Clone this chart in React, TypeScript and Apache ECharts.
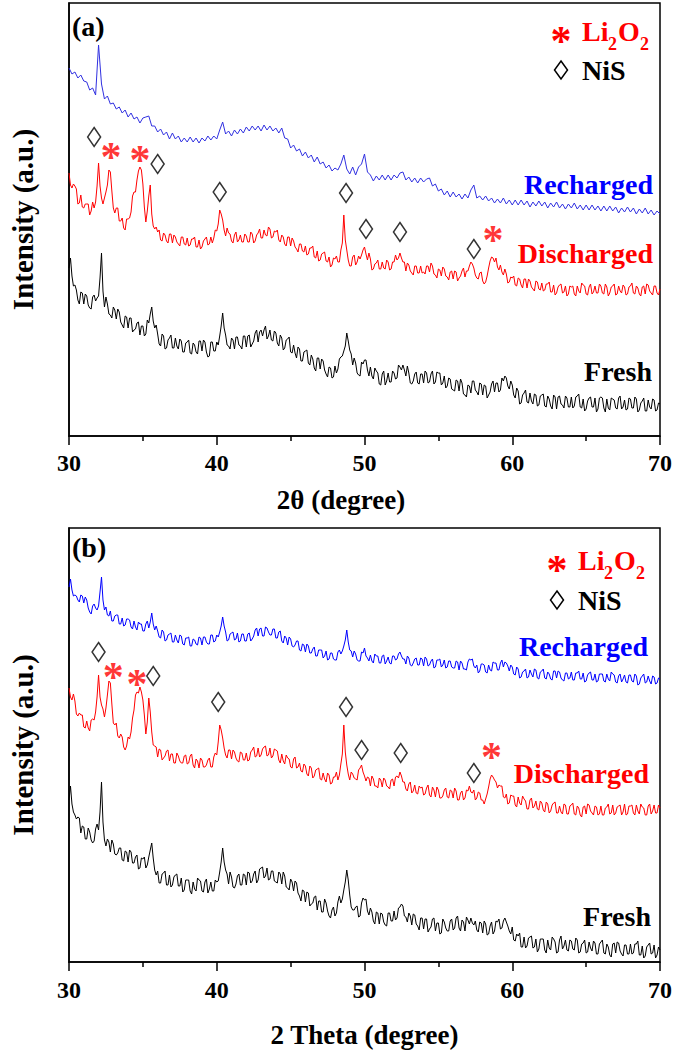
import React, { useEffect, useRef } from "react";
import * as echarts from "echarts";

// 2θ sampling grids (degrees): 0.1° steps for the noisy scans, 0.2° for the smoother one
const twoThetaFine: number[] = Array.from({ length: 401 }, (_, i) => (300 + i) / 10);
const twoThetaCoarse: number[] = Array.from({ length: 201 }, (_, i) => (150 + i) / 5);
const xTicks = [30, 40, 50, 60, 70];

// Panel (a) intensities (a.u.)
const rechargedA = [
  368, 362, 364, 358, 361, 355, 354, 346, 348, 341,
  391, 352, 337, 340, 332, 333, 327, 329, 323, 326,
  319, 323, 317, 319, 313, 318, 319, 320, 310, 310,
  304, 307, 301, 304, 297, 303, 297, 300, 294, 298,
  294, 299, 294, 298, 293, 298, 295, 300, 296, 300,
  297, 306, 314, 302, 305, 300, 306, 302, 307, 303,
  309, 305, 310, 306, 310, 305, 311, 306, 310, 305,
  308, 303, 308, 298, 297, 288, 291, 285, 287, 280,
  284, 278, 281, 274, 279, 272, 274, 268, 271, 265,
  268, 266, 272, 281, 267, 262, 269, 261, 269, 272,
  282, 264, 261, 255, 260, 256, 261, 256, 261, 256,
  261, 258, 263, 264, 256, 259, 254, 258, 253, 258,
  254, 257, 258, 250, 252, 245, 247, 241, 245, 239,
  244, 239, 242, 237, 242, 238, 246, 251, 238, 240,
  236, 240, 235, 238, 233, 237, 233, 238, 232, 236,
  231, 236, 231, 236, 231, 235, 229, 234, 230, 235,
  230, 234, 228, 233, 229, 234, 228, 232, 227, 232,
  228, 233, 227, 231, 226, 231, 226, 231, 226, 230,
  225, 230, 225, 230, 225, 229, 223, 228, 224, 229,
  224, 228, 222, 227, 223, 228, 222, 226, 221, 225,
  222,
];
const dischargedA = [
  263, 251, 248, 252, 250, 247, 232, 233, 241, 229, 228, 232, 232, 232, 221, 225, 234, 228, 234, 250,
  273, 250, 238, 232, 238, 244, 251, 266, 264, 245, 228, 223, 228, 228, 215, 215, 218, 208, 206, 217,
  217, 218, 224, 240, 244, 244, 256, 265, 269, 266, 252, 229, 214, 225, 240, 251, 222, 210, 207, 209,
  204, 206, 196, 195, 203, 201, 195, 193, 202, 202, 193, 201, 199, 194, 192, 190, 199, 199, 192, 191,
  198, 190, 191, 197, 197, 199, 189, 189, 196, 187, 189, 195, 197, 199, 191, 192, 199, 193, 198, 206,
  205, 212, 226, 222, 216, 206, 200, 208, 203, 202, 195, 193, 201, 204, 194, 196, 201, 194, 194, 202,
  200, 194, 194, 204, 202, 193, 195, 201, 203, 207, 198, 198, 206, 201, 200, 209, 207, 198, 199, 205,
  204, 206, 196, 194, 201, 199, 192, 190, 199, 199, 190, 198, 195, 189, 187, 184, 192, 192, 185, 184,
  190, 181, 182, 188, 188, 190, 179, 178, 185, 175, 176, 182, 183, 184, 175, 174, 179, 169, 171, 178,
  177, 180, 174, 174, 186, 193, 221, 196, 186, 176, 170, 170, 179, 181, 171, 174, 180, 177, 181, 186,
  189, 182, 176, 183, 177, 166, 167, 172, 173, 176, 167, 167, 174, 168, 167, 176, 174, 166, 167, 174,
  174, 181, 176, 178, 183, 178, 174, 174, 165, 173, 171, 165, 163, 161, 170, 170, 163, 163, 170, 163,
  164, 162, 170, 170, 164, 173, 170, 162, 161, 158, 167, 166, 160, 169, 167, 160, 159, 156, 164, 165,
  157, 165, 164, 155, 158, 160, 165, 168, 159, 165, 165, 170, 174, 172, 168, 161, 158, 157, 163, 164,
  155, 152, 154, 160, 168, 175, 179, 178, 174, 178, 169, 166, 171, 164, 161, 167, 162, 153, 154, 159,
  158, 160, 151, 150, 158, 157, 151, 148, 157, 157, 148, 157, 155, 149, 147, 145, 155, 154, 147, 146,
  153, 145, 146, 152, 152, 154, 144, 144, 151, 141, 143, 149, 151, 152, 143, 144, 150, 140, 142, 150,
  149, 150, 142, 140, 150, 145, 143, 153, 151, 150, 142, 141, 149, 152, 142, 144, 150, 143, 143, 152,
  150, 143, 142, 152, 149, 140, 143, 149, 150, 152, 141, 142, 150, 145, 143, 151, 149, 141, 142, 149,
  150, 153, 143, 142, 150, 148, 142, 140, 149, 150, 142, 152, 151, 145, 143, 141, 150, 150, 143, 141,
  147,
];
const freshA = [
  168, 178, 160, 150, 151, 146, 136, 132, 144, 143, 132, 142, 140, 131, 128, 127, 139, 141, 135, 138,
  140, 158, 183, 145, 129, 139, 132, 122, 121, 118, 129, 126, 117, 127, 124, 114, 111, 108, 120, 119,
  108, 118, 118, 104, 106, 107, 113, 114, 101, 110, 110, 100, 102, 116, 113, 122, 129, 115, 108, 111,
  102, 92, 90, 102, 100, 87, 88, 96, 98, 101, 88, 88, 98, 90, 87, 97, 95, 84, 84, 93,
  94, 96, 83, 82, 93, 91, 84, 82, 95, 95, 85, 96, 94, 84, 79, 80, 94, 94, 85, 85,
  94, 91, 100, 110, 123, 108, 101, 91, 90, 87, 98, 96, 87, 99, 99, 91, 90, 87, 100, 100,
  89, 100, 101, 89, 92, 95, 103, 106, 94, 104, 106, 100, 106, 110, 97, 100, 106, 96, 95, 105,
  103, 93, 90, 101, 98, 86, 88, 96, 97, 99, 84, 83, 91, 83, 78, 89, 87, 75, 75, 84,
  85, 86, 73, 71, 81, 77, 68, 65, 78, 78, 67, 77, 75, 66, 62, 59, 69, 68, 58, 59,
  70, 63, 67, 77, 79, 80, 85, 90, 103, 95, 86, 82, 71, 78, 73, 63, 61, 60, 74, 72,
  76, 76, 66, 60, 69, 60, 57, 68, 65, 63, 52, 51, 62, 65, 51, 55, 63, 54, 54, 65,
  63, 57, 58, 71, 69, 66, 71, 66, 60, 70, 63, 53, 52, 55, 62, 64, 53, 52, 62, 62,
  53, 65, 63, 53, 54, 62, 65, 52, 54, 64, 63, 63, 51, 53, 60, 48, 50, 58, 57, 47,
  46, 45, 56, 55, 45, 57, 53, 42, 41, 39, 51, 50, 43, 55, 55, 46, 44, 41, 53, 52,
  41, 51, 50, 38, 41, 44, 52, 55, 44, 53, 53, 44, 46, 58, 55, 60, 58, 50, 47, 55,
  51, 41, 38, 48, 45, 32, 33, 41, 43, 46, 34, 33, 43, 35, 32, 42, 41, 30, 31, 40,
  41, 42, 30, 29, 40, 37, 30, 27, 41, 39, 27, 39, 40, 32, 31, 28, 40, 38, 29, 29,
  39, 28, 30, 39, 40, 42, 29, 28, 37, 25, 27, 35, 38, 39, 29, 29, 38, 24, 27, 38,
  39, 38, 28, 24, 37, 28, 26, 38, 37, 36, 28, 27, 38, 40, 27, 29, 36, 26, 27, 38,
  37, 28, 28, 39, 37, 24, 26, 33, 35, 38, 25, 25, 36, 29, 27, 37, 36, 25, 26, 33,
  32,
];

// Panel (b) intensities (a.u.)
const rechargedB = [
  375, 383, 372, 366, 367, 366, 362, 360, 367, 366, 359, 365, 362, 354, 350, 348, 356, 358, 354, 352,
  356, 370, 385, 362, 352, 355, 347, 346, 351, 341, 341, 346, 347, 347, 338, 338, 344, 336, 337, 343,
  343, 342, 335, 333, 341, 335, 332, 340, 338, 338, 331, 331, 338, 341, 334, 340, 349, 338, 332, 336,
  331, 325, 324, 332, 330, 321, 322, 327, 328, 329, 320, 320, 327, 322, 319, 327, 326, 318, 317, 324,
  324, 325, 316, 316, 323, 322, 318, 317, 325, 324, 317, 325, 325, 320, 318, 318, 327, 327, 320, 321,
  327, 325, 330, 336, 345, 336, 330, 321, 322, 328, 329, 330, 322, 323, 329, 320, 321, 328, 328, 321,
  321, 328, 329, 321, 323, 326, 332, 334, 326, 333, 334, 326, 326, 335, 334, 330, 327, 327, 333, 333,
  324, 324, 330, 331, 321, 319, 326, 324, 317, 325, 323, 316, 315, 317, 321, 321, 312, 311, 318, 317,
  310, 318, 316, 309, 309, 313, 315, 306, 306, 312, 312, 312, 304, 306, 311, 302, 303, 309, 309, 303,
  302, 302, 310, 312, 308, 311, 316, 322, 332, 320, 312, 311, 305, 311, 308, 302, 301, 301, 310, 309,
  314, 306, 304, 301, 307, 301, 299, 308, 306, 306, 299, 299, 306, 307, 298, 301, 305, 299, 298, 306,
  306, 302, 303, 308, 310, 306, 303, 303, 298, 306, 304, 297, 296, 299, 303, 304, 297, 297, 304, 303,
  296, 305, 303, 296, 297, 301, 303, 294, 295, 302, 302, 303, 295, 297, 302, 294, 295, 301, 301, 295,
  294, 294, 301, 300, 292, 301, 299, 293, 293, 292, 300, 303, 302, 303, 296, 294, 297, 289, 291, 298,
  298, 297, 290, 289, 297, 292, 291, 300, 299, 299, 292, 292, 299, 302, 295, 300, 299, 296, 291, 297,
  295, 288, 287, 295, 293, 284, 285, 290, 291, 293, 284, 285, 292, 288, 285, 293, 292, 284, 283, 290,
  291, 293, 284, 283, 290, 288, 283, 282, 291, 291, 284, 291, 290, 284, 282, 281, 289, 289, 283, 284,
  290, 282, 282, 289, 289, 291, 283, 283, 289, 280, 281, 287, 289, 290, 282, 282, 288, 280, 281, 288,
  288, 288, 281, 280, 288, 283, 281, 290, 288, 287, 280, 279, 286, 288, 280, 283, 287, 280, 279, 287,
  287, 281, 280, 288, 286, 277, 278, 284, 286, 288, 279, 280, 286, 281, 278, 286, 285, 278, 279, 284,
  283,
];
const dischargedB = [
  274, 265, 262, 268, 261, 248, 246, 249, 247, 247, 235, 234, 241, 234, 231, 242, 243, 242, 250, 265,
  287, 265, 257, 253, 245, 254, 267, 281, 279, 258, 239, 237, 239, 226, 224, 228, 225, 215, 212, 216,
  225, 223, 230, 244, 252, 267, 270, 269, 275, 270, 262, 247, 228, 240, 264, 250, 230, 217, 216, 215,
  205, 213, 212, 202, 204, 206, 211, 212, 201, 208, 208, 199, 199, 209, 206, 201, 199, 199, 206, 207,
  198, 199, 206, 208, 197, 194, 203, 201, 194, 204, 202, 195, 195, 197, 202, 204, 195, 195, 205, 209,
  207, 220, 237, 232, 224, 214, 207, 204, 212, 212, 203, 212, 210, 204, 201, 200, 210, 209, 202, 202,
  209, 201, 202, 210, 212, 215, 205, 206, 214, 205, 207, 213, 215, 216, 206, 207, 214, 204, 206, 213,
  212, 211, 202, 199, 208, 201, 198, 207, 204, 203, 195, 194, 203, 205, 194, 195, 199, 191, 190, 198,
  196, 188, 186, 196, 194, 184, 186, 192, 193, 194, 183, 182, 189, 183, 180, 189, 187, 178, 179, 185,
  185, 190, 182, 187, 198, 208, 237, 210, 197, 188, 182, 190, 188, 184, 183, 182, 192, 194, 197, 190,
  186, 181, 185, 184, 176, 186, 183, 176, 176, 174, 184, 182, 175, 184, 182, 176, 175, 173, 182, 183,
  176, 185, 186, 184, 190, 186, 180, 180, 173, 171, 178, 180, 169, 171, 177, 169, 168, 176, 174, 175,
  167, 168, 174, 177, 167, 165, 175, 172, 165, 175, 172, 164, 164, 166, 172, 174, 165, 164, 172, 171,
  164, 174, 171, 162, 162, 169, 171, 162, 164, 172, 171, 176, 170, 169, 172, 162, 164, 170, 169, 162,
  162, 158, 163, 168, 175, 183, 187, 185, 182, 180, 174, 177, 176, 176, 165, 164, 168, 158, 159, 167,
  166, 166, 157, 155, 165, 159, 157, 166, 163, 161, 153, 153, 162, 164, 154, 156, 161, 153, 152, 161,
  159, 152, 150, 160, 158, 149, 151, 157, 159, 160, 149, 149, 156, 150, 148, 158, 157, 148, 148, 156,
  157, 159, 148, 147, 156, 154, 147, 145, 155, 156, 148, 158, 157, 151, 149, 147, 156, 155, 147, 148,
  156, 147, 147, 154, 155, 158, 148, 149, 157, 147, 149, 155, 156, 157, 147, 150, 158, 147, 148, 156,
  156, 157, 149, 147, 157, 151, 148, 158, 155, 154, 147, 147, 156, 158, 148, 151, 157, 149, 149, 157,
  154,
];
const freshB = [
  162, 176, 158, 150, 147, 143, 145, 144, 129, 136, 135, 123, 123, 134, 130, 122, 119, 121, 133, 138,
  132, 150, 180, 140, 122, 116, 123, 120, 110, 122, 118, 108, 107, 109, 114, 114, 102, 101, 111, 110,
  100, 112, 110, 99, 99, 105, 107, 93, 94, 104, 103, 105, 94, 97, 105, 112, 119, 104, 92, 87,
  91, 79, 79, 88, 89, 91, 77, 77, 87, 75, 77, 85, 87, 88, 76, 76, 84, 70, 72, 82,
  82, 82, 71, 68, 80, 73, 71, 84, 82, 81, 71, 70, 80, 83, 69, 73, 80, 71, 71, 82,
  80, 81, 90, 100, 114, 100, 92, 88, 78, 90, 85, 75, 74, 78, 86, 88, 77, 77, 88, 87,
  77, 90, 89, 79, 81, 88, 91, 79, 82, 93, 94, 95, 84, 86, 94, 82, 83, 91, 91, 81,
  80, 79, 90, 88, 78, 90, 86, 75, 74, 72, 83, 80, 71, 81, 79, 69, 66, 61, 72, 71,
  60, 70, 69, 56, 58, 59, 65, 66, 52, 61, 61, 50, 50, 63, 59, 51, 46, 44, 52, 55,
  46, 49, 60, 66, 59, 63, 72, 80, 92, 82, 67, 55, 52, 52, 55, 56, 45, 46, 59, 64,
  62, 63, 51, 47, 54, 50, 41, 38, 50, 49, 38, 49, 48, 40, 37, 36, 49, 49, 41, 41,
  51, 42, 44, 54, 55, 58, 56, 46, 45, 40, 49, 46, 37, 48, 47, 38, 36, 32, 44, 44,
  33, 43, 43, 30, 33, 35, 43, 44, 31, 39, 39, 28, 29, 43, 40, 34, 31, 31, 41, 43,
  32, 34, 44, 46, 34, 31, 42, 40, 31, 45, 42, 38, 44, 39, 37, 41, 32, 30, 40, 39,
  29, 41, 38, 27, 28, 36, 40, 28, 31, 41, 40, 43, 33, 34, 41, 44, 40, 36, 31, 28,
  35, 22, 21, 28, 26, 29, 15, 15, 25, 14, 16, 24, 25, 26, 14, 15, 23, 10, 13, 23,
  23, 23, 12, 9, 22, 14, 12, 25, 23, 20, 9, 10, 22, 26, 13, 16, 22, 12, 11, 22,
  21, 13, 12, 24, 22, 9, 10, 18, 19, 22, 9, 10, 20, 14, 11, 21, 19, 8, 8, 18,
  20, 22, 9, 8, 18, 15, 7, 5, 18, 19, 9, 20, 19, 11, 8, 6, 17, 17, 8, 8,
  18, 8, 9, 18, 18, 21, 7, 7, 16, 4, 6, 15, 17, 19, 8, 9, 17, 4, 7, 15,
  12,
];

// Phase markers [2θ, intensity]
const nisMarksA = [[31.7, 299], [36.0, 272], [40.2, 244], [48.75, 243], [50.1, 207], [52.4, 204], [57.4, 187]];
const li2o2MarksA = [[32.85, 286], [34.8, 283], [58.7, 203]];
const nisMarksB = [[32.0, 310], [35.7, 286], [40.1, 260], [48.75, 255], [49.8, 212], [52.45, 209], [57.4, 189]];
const li2o2MarksB = [[33.0, 292], [34.6, 285], [58.6, 212]];

const seriesNames = ["Recharged", "Discharged", "Fresh"];
const phaseNames = ["Li", "O", "NiS"];
const axisTitles = ["2θ (degree)", "2 Theta (degree)", "Intensity (a.u.)"];

const FONT = "Liberation Serif";
const RED = "#ff0000";
const BLUE = "#0000ff";

const pair = (grid: number[], ys: number[]) => ys.map((y, i) => [grid[i], y]);

function xAxisCfg(gridIndex: number, name: string, nameGap: number, margin: number) {
  return {
    type: "value",
    gridIndex,
    min: 30,
    max: 70,
    interval: 10,
    name,
    nameLocation: "middle",
    nameGap,
    nameTextStyle: { fontFamily: FONT, fontWeight: "bold", fontSize: 27, color: "#000" },
    axisLine: { lineStyle: { color: "#000", width: 1.5 } },
    axisTick: { show: true, inside: false, length: 9, lineStyle: { color: "#000", width: 1.5 } },
    minorTick: { show: true, splitNumber: 2, length: 5, lineStyle: { color: "#000", width: 1.5 } },
    axisLabel: {
      fontFamily: FONT, fontWeight: "bold", fontSize: 24, color: "#000", margin,
      formatter: (v: number) => (xTicks.includes(v) ? String(v) : ""),
    },
    splitLine: { show: false },
    minorSplitLine: { show: false },
  };
}

function yAxisCfg(gridIndex: number, max: number) {
  return {
    type: "value",
    gridIndex,
    min: 0,
    max,
    name: axisTitles[2],
    nameLocation: "middle",
    nameGap: 32,
    nameRotate: 90,
    nameTextStyle: { fontFamily: FONT, fontWeight: "bold", fontSize: 29, color: "#000" },
    axisLine: { show: true, lineStyle: { color: "#000", width: 1.5 } },
    axisTick: { show: false },
    axisLabel: { show: false },
    splitLine: { show: false },
  };
}

function lineSeries(idx: number, grid: number[], data: number[], color: string) {
  return {
    type: "line",
    xAxisIndex: idx,
    yAxisIndex: idx,
    data: pair(grid, data),
    showSymbol: false,
    symbol: "none",
    silent: true,
    lineStyle: { color, width: 1 },
  };
}

function diamondSeries(idx: number, data: number[][]) {
  return {
    type: "scatter",
    xAxisIndex: idx,
    yAxisIndex: idx,
    data,
    symbol: "diamond",
    symbolSize: [13, 19],
    silent: true,
    itemStyle: { color: "rgba(255,255,255,0)", borderColor: "#000", borderWidth: 1.5 },
  };
}

function starSeries(idx: number, data: number[][]) {
  return {
    type: "scatter",
    xAxisIndex: idx,
    yAxisIndex: idx,
    data,
    symbol: "circle",
    symbolSize: 1,
    silent: true,
    itemStyle: { color: "rgba(0,0,0,0)" },
    label: {
      show: true,
      position: "inside",
      formatter: "*",
      color: RED,
      fontFamily: FONT,
      fontWeight: "bold",
      fontSize: 42,
      offset: [0, 7],
    },
  };
}

function txt(text: string, x: number, y: number, color: string, size: number, align = "left") {
  return {
    type: "text",
    x,
    y,
    silent: true,
    style: {
      text,
      fill: color,
      fontFamily: FONT,
      fontWeight: "bold",
      fontSize: size,
      align,
      verticalAlign: "middle",
    },
  };
}

function legendBlock(x0: number, yLi: number, yNiS: number) {
  return [
    txt("*", x0 - 21, yLi + 10, RED, 42, "center"),
    txt(phaseNames[0], x0, yLi, RED, 28),
    txt("2", x0 + 26, yLi + 13, RED, 18),
    txt(phaseNames[1], x0 + 36, yLi, RED, 28),
    txt("2", x0 + 58, yLi + 13, RED, 18),
    {
      type: "polygon",
      silent: true,
      shape: { points: [[x0 - 21, yNiS - 9], [x0 - 14.5, yNiS], [x0 - 21, yNiS + 9], [x0 - 27.5, yNiS]] },
      style: { fill: "none", stroke: "#000", lineWidth: 1.5 },
    },
    txt(phaseNames[2], x0, yNiS, "#000", 28),
  ];
}

export default function App() {
  const ref = useRef<HTMLDivElement>(null);
  useEffect(() => {
    if (!ref.current) return;
    const chart = echarts.init(ref.current, undefined, { renderer: "svg" });
    chart.setOption({
      animation: false,
      backgroundColor: "#fff",
      grid: [
        { left: 67, top: 3, width: 594, height: 433, show: true, borderColor: "#000", borderWidth: 1.5 },
        { left: 67, top: 528, width: 594, height: 434, show: true, borderColor: "#000", borderWidth: 1.5 },
      ],
      xAxis: [xAxisCfg(0, "", 50, 15), xAxisCfg(1, axisTitles[1], 59, 16)],
      yAxis: [yAxisCfg(0, 433), yAxisCfg(1, 434)],
      series: [
        lineSeries(0, twoThetaCoarse, rechargedA, "#3030e0"),
        lineSeries(0, twoThetaFine, dischargedA, RED),
        lineSeries(0, twoThetaFine, freshA, "#000"),
        diamondSeries(0, nisMarksA),
        starSeries(0, li2o2MarksA),
        lineSeries(1, twoThetaFine, rechargedB, BLUE),
        lineSeries(1, twoThetaFine, dischargedB, RED),
        lineSeries(1, twoThetaFine, freshB, "#000"),
        diamondSeries(1, nisMarksB),
        starSeries(1, li2o2MarksB),
      ],
      graphic: [
        txt(axisTitles[0], 341, 500, "#000", 27, "center"),
        txt("(a)", 72, 26, "#000", 28),
        txt("(b)", 72, 547, "#000", 28),
        txt(seriesNames[0], 653, 184, BLUE, 28, "right"),
        txt(seriesNames[1], 653, 253, RED, 28, "right"),
        txt(seriesNames[2], 652, 371, "#000", 28, "right"),
        txt(seriesNames[0], 648, 646, BLUE, 28, "right"),
        txt(seriesNames[1], 649, 773, RED, 28, "right"),
        txt(seriesNames[2], 651, 916, "#000", 28, "right"),
        ...legendBlock(582, 31, 70),
        ...legendBlock(578, 560, 600),
      ],
    });
    return () => chart.dispose();
  }, []);
  return (
    <div
      ref={ref}
      style={{ position: "absolute", left: 0, top: 0, width: 675, height: 1053 }}
    />
  );
}
